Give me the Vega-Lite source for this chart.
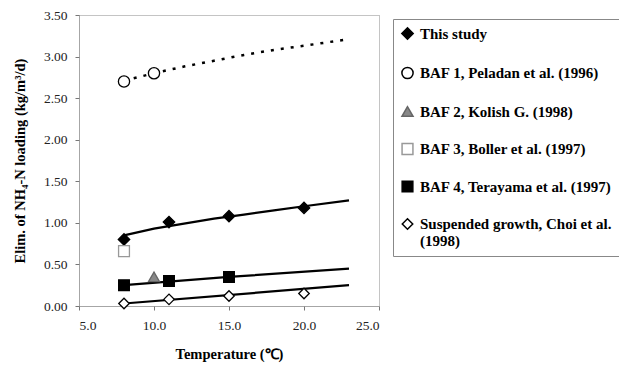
{
  "$schema": "https://vega.github.io/schema/vega-lite/v6.json",
  "autosize": "none",
  "width": 300,
  "height": 291,
  "padding": {"left": 79, "top": 15, "right": 240, "bottom": 59},
  "background": "white",
  "config": {
    "view": {"stroke": "#888", "strokeDash": [1, 1], "strokeWidth": 1},
    "axis": {
      "labelFont": "Liberation Serif",
      "labelFontSize": 13.5,
      "labelColor": "#222",
      "titleFont": "Liberation Serif",
      "titleFontSize": 14.5,
      "titleFontWeight": "bold",
      "titleColor": "#000",
      "domainColor": "#888",
      "domainDash": [1, 1],
      "tickColor": "#777",
      "tickSize": 4,
      "grid": false
    },
    "legend": {
      "labelFont": "Liberation Serif",
      "labelFontSize": 15,
      "labelFontWeight": "bold",
      "labelColor": "#000"
    }
  },
  "datasets": {
    "pts": [
      {"series": "This study", "temp": 8, "val": 0.80},
      {"series": "This study", "temp": 11, "val": 1.01},
      {"series": "This study", "temp": 15, "val": 1.08},
      {"series": "This study", "temp": 20, "val": 1.18},
      {"series": "BAF 1, Peladan et al. (1996)", "temp": 8, "val": 2.70},
      {"series": "BAF 1, Peladan et al. (1996)", "temp": 10, "val": 2.80},
      {"series": "BAF 2, Kolish G. (1998)", "temp": 10, "val": 0.35},
      {"series": "BAF 3, Boller et al. (1997)", "temp": 8, "val": 0.66},
      {"series": "BAF 4, Terayama et al. (1997)", "temp": 8, "val": 0.25},
      {"series": "BAF 4, Terayama et al. (1997)", "temp": 11, "val": 0.30},
      {"series": "BAF 4, Terayama et al. (1997)", "temp": 15, "val": 0.35},
      {"series": "Suspended growth, Choi et al. (1998)", "temp": 8, "val": 0.03},
      {"series": "Suspended growth, Choi et al. (1998)", "temp": 11, "val": 0.08},
      {"series": "Suspended growth, Choi et al. (1998)", "temp": 15, "val": 0.12},
      {"series": "Suspended growth, Choi et al. (1998)", "temp": 20, "val": 0.15}
    ],
    "fit": [
      {"series": "This study", "temp": 8, "val": 0.85},
      {"series": "This study", "temp": 10, "val": 0.93},
      {"series": "This study", "temp": 12, "val": 0.99},
      {"series": "This study", "temp": 14, "val": 1.05},
      {"series": "This study", "temp": 16, "val": 1.10},
      {"series": "This study", "temp": 18, "val": 1.15},
      {"series": "This study", "temp": 20, "val": 1.20},
      {"series": "This study", "temp": 23, "val": 1.27},
      {"series": "BAF 1, Peladan et al. (1996)", "temp": 8, "val": 2.71},
      {"series": "BAF 1, Peladan et al. (1996)", "temp": 10, "val": 2.80},
      {"series": "BAF 1, Peladan et al. (1996)", "temp": 12, "val": 2.88},
      {"series": "BAF 1, Peladan et al. (1996)", "temp": 14, "val": 2.95},
      {"series": "BAF 1, Peladan et al. (1996)", "temp": 16, "val": 3.02},
      {"series": "BAF 1, Peladan et al. (1996)", "temp": 18, "val": 3.08},
      {"series": "BAF 1, Peladan et al. (1996)", "temp": 20, "val": 3.13},
      {"series": "BAF 1, Peladan et al. (1996)", "temp": 23, "val": 3.21},
      {"series": "BAF 4, Terayama et al. (1997)", "temp": 8, "val": 0.25},
      {"series": "BAF 4, Terayama et al. (1997)", "temp": 15, "val": 0.35},
      {"series": "BAF 4, Terayama et al. (1997)", "temp": 23, "val": 0.45},
      {"series": "Suspended growth, Choi et al. (1998)", "temp": 8, "val": 0.03},
      {"series": "Suspended growth, Choi et al. (1998)", "temp": 23, "val": 0.25}
    ]
  },
  "encoding": {
    "x": {
      "field": "temp", "type": "quantitative",
      "scale": {"domain": [5, 25], "nice": false},
      "axis": {"values": [5, 10, 15, 20, 25], "format": ".1f", "title": "Temperature (℃)", "labelPadding": 8, "titlePadding": 16}
    },
    "y": {
      "field": "val", "type": "quantitative",
      "scale": {"domain": [0, 3.5], "nice": false},
      "axis": {"values": [0, 0.5, 1, 1.5, 2, 2.5, 3, 3.5], "format": ".2f", "title": "Elim. of NH₄-N loading (kg/m³/d)", "labelPadding": 8, "titlePadding": 16}
    }
  },
  "layer": [
    {
      "data": {"name": "fit"},
      "transform": [{"filter": "datum.series != 'BAF 1, Peladan et al. (1996)'"}],
      "mark": {"type": "line", "color": "#000", "strokeWidth": 2.2},
      "encoding": {"detail": {"field": "series"}}
    },
    {
      "data": {"name": "fit"},
      "transform": [{"filter": "datum.series == 'BAF 1, Peladan et al. (1996)'"}],
      "mark": {"type": "line", "color": "#000", "strokeWidth": 2.5, "strokeDash": [3, 7]},
      "encoding": {"detail": {"field": "series"}}
    },
    {
      "data": {"name": "pts"},
      "mark": {"type": "point", "opacity": 1, "strokeWidth": 1.3, "filled": true},
      "encoding": {
        "shape": {
          "field": "series", "type": "nominal",
          "scale": {
            "domain": ["This study", "BAF 1, Peladan et al. (1996)", "BAF 2, Kolish G. (1998)", "BAF 3, Boller et al. (1997)", "BAF 4, Terayama et al. (1997)", "Suspended growth, Choi et al. (1998)"],
            "range": ["diamond", "circle", "triangle-up", "square", "square", "diamond"]
          },
          "legend": {
            "title": null, "orient": "none", "legendX": 314, "legendY": 4,
            "padding": 7, "rowPadding": 20.5, "labelLimit": 260,
            "strokeColor": "#888", "fillColor": "white", "labelOffset": 5,
            "labelExpr": "datum.label == 'Suspended growth, Choi et al. (1998)' ? ['Suspended growth, Choi et al.', '(1998)'] : datum.label"
          }
        },
        "fill": {
          "field": "series", "type": "nominal",
          "scale": {
            "domain": ["This study", "BAF 1, Peladan et al. (1996)", "BAF 2, Kolish G. (1998)", "BAF 3, Boller et al. (1997)", "BAF 4, Terayama et al. (1997)", "Suspended growth, Choi et al. (1998)"],
            "range": ["#000", "#fff", "#888", "#fff", "#000", "#fff"]
          }
        },
        "stroke": {
          "field": "series", "type": "nominal",
          "scale": {
            "domain": ["This study", "BAF 1, Peladan et al. (1996)", "BAF 2, Kolish G. (1998)", "BAF 3, Boller et al. (1997)", "BAF 4, Terayama et al. (1997)", "Suspended growth, Choi et al. (1998)"],
            "range": ["#000", "#000", "#666", "#999", "#000", "#000"]
          }
        },
        "size": {
          "field": "series", "type": "nominal",
          "scale": {
            "domain": ["This study", "BAF 1, Peladan et al. (1996)", "BAF 2, Kolish G. (1998)", "BAF 3, Boller et al. (1997)", "BAF 4, Terayama et al. (1997)", "Suspended growth, Choi et al. (1998)"],
            "range": [130, 110, 40, 60, 85, 140]
          }
        }
      }
    }
  ]
}
